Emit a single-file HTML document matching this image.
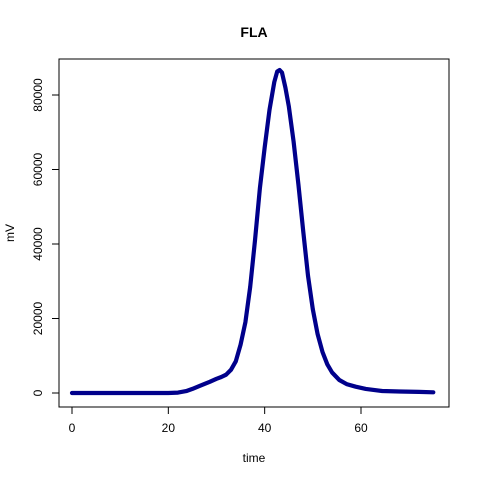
<!DOCTYPE html>
<html><head><meta charset="utf-8"><style>
body{margin:0;background:#fff}
svg{display:block;font-family:"Liberation Sans",Arial,sans-serif}
</style></head><body>
<svg id="chart" width="480" height="480">
<rect x="0" y="0" width="480" height="480" fill="#fff"/>
<text x="254" y="37" text-anchor="middle" font-weight="bold" font-size="14">FLA</text>
<rect x="59" y="59" width="390" height="348" fill="none" stroke="#000" stroke-width="1"/>
<text x="254" y="462" text-anchor="middle" font-size="12">time</text>
<text transform="translate(14,233) rotate(-90)" text-anchor="middle" font-size="12">mV</text>
<g id="xaxis"></g>
<g id="yaxis"></g>
<g id="series"></g>
</svg>
<script>
const times=[0,5,10,15,20,22,23.7,25,26.5,28.6,30,31,32,33,34,35,36,37,38,39,40,41,42,42.6,43.1,43.6,44.3,45,46,47,48,49,50,51,52,53,54,55.5,57,58.9,61,64.4,68,72,75];
const values=[0,0,0,0,0,100,500,1100,1900,3000,3800,4300,4900,6200,8500,13000,19000,28500,41000,55000,66000,76000,83500,86300,86700,86000,82000,77000,67500,56000,43500,31500,22500,15800,11000,7700,5500,3500,2400,1700,1100,540,400,300,200];
const xTicks=[0,20,40,60];
const yTicks=[0,20000,40000,60000,80000];
const NS="http://www.w3.org/2000/svg";
function sx(t){return 72+t*(361-72)/60;}
function sy(v){return 393-v*(393-95)/80000;}
const xa=document.getElementById('xaxis'),ya=document.getElementById('yaxis'),sg=document.getElementById('series');
function mk(tag,attrs,parent){const e=document.createElementNS(NS,tag);for(const k in attrs)e.setAttribute(k,attrs[k]);parent.appendChild(e);return e;}
mk('line',{x1:sx(xTicks[0]),x2:sx(xTicks[xTicks.length-1]),y1:407,y2:407,stroke:'#000'},xa);
xTicks.forEach(t=>{
  const l=mk('line',{x1:sx(t),x2:sx(t),y1:407,y2:414,stroke:'#000'},xa);
  
  
  const tx=mk('text',{x:sx(t),y:432,'text-anchor':'middle','font-size':12},xa);tx.textContent=t;
  
  
});
mk('line',{x1:59,x2:59,y1:sy(yTicks[0]),y2:sy(yTicks[yTicks.length-1]),stroke:'#000'},ya);
yTicks.forEach(v=>{
  const l=mk('line',{x1:52,x2:59,y1:sy(v),y2:sy(v),stroke:'#000'},ya);
  
  
  const tx=mk('text',{transform:`translate(42,${sy(v)}) rotate(-90)`,'text-anchor':'middle','font-size':12},ya);tx.textContent=v;
  
  
});
const pts=times.map((t,i)=>sx(t).toFixed(1)+','+sy(values[i]).toFixed(1)).join(' ');
const pl=mk('polyline',{points:pts,fill:'none',stroke:'#00008B','stroke-width':4.2,'stroke-linejoin':'round','stroke-linecap':'round'},sg);


</script>
</body></html>
